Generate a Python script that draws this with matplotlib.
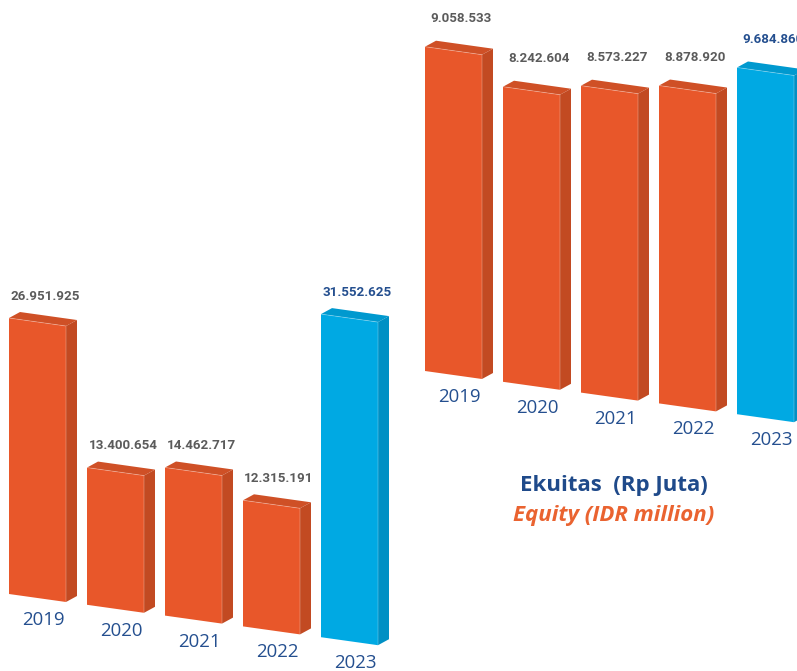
import numpy as np
import matplotlib.pyplot as plt
from matplotlib.patches import Polygon

years = ["2019", "2020", "2021", "2022", "2023"]
# left block (Rp million)
left_vals = [26951925, 13400654, 14462717, 12315191, 31552625]
# equity (Rp million)
equity_vals = [9058533, 8242604, 8573227, 8878920, 9684860]

orange = dict(front="#e8572a", side="#c24a22", top="#cf5026")
blue = dict(front="#00a9e3", side="#0090c4", top="#0099cf")
navy = "#244f8f"
gray = "#5b5b5b"

W, H = 797, 671
fig = plt.figure(figsize=(W / 100, H / 100), dpi=100)
ax = fig.add_axes([0, 0, 1, 1])
ax.set_xlim(0, W)
ax.set_ylim(H, 0)
ax.axis("off")

bw, dx, dy = 57, 11, -6          # front width, depth offset
slope = 8 / 57                   # perspective tilt of top/bottom edges
step_x, step_y = 78, 10.8        # spacing between bars


def fmt(v):
    return f"{v:,}".replace(",", ".")


def bar3d(x, ybase, h, c):
    # front face corners (y grows downward)
    bl = (x, ybase)
    br = (x + bw, ybase + bw * slope)
    tl = (x, ybase - h)
    tr = (x + bw, ybase - h + bw * slope)
    off = lambda p: (p[0] + dx, p[1] + dy)
    ax.add_patch(Polygon([tl, tr, off(tr), off(tl)], closed=True,
                         fc=c["top"], ec="none"))
    ax.add_patch(Polygon([tr, br, off(br), off(tr)], closed=True,
                         fc=c["side"], ec="none"))
    ax.add_patch(Polygon([tl, tr, br, bl], closed=True,
                         fc=c["front"], ec="none"))
    # faint highlight along the front edges
    ax.plot([tl[0], tr[0], br[0]], [tl[1], tr[1], br[1]],
            color="white", lw=0.6, alpha=0.3)
    return tl


def group(vals, x0, y0, scale, lab_off):
    for i, (yr, v) in enumerate(zip(years, vals)):
        x = x0 + i * step_x
        yb = y0 + i * step_y
        c = blue if i == len(vals) - 1 else orange
        tl = bar3d(x, yb, v / 1e6 * scale, c)
        ax.text(x + 36, tl[1] - lab_off, fmt(v), ha="center", va="center",
                fontsize=9.6, fontweight="bold", family="Roboto",
                color=navy if i == len(vals) - 1 else gray)
        ax.text(x + 34, yb + 26, yr, ha="center", va="center",
                fontsize=13.4, family="Open Sans", color=navy)


group(left_vals, 9, 594, 10.24, 22)
group(equity_vals, 425, 371, 35.8, 28)

ax.text(614, 486, "Ekuitas  (Rp Juta)", ha="center", va="center",
        fontsize=16, fontweight="bold", family="Open Sans", color="#1f4a8a")
ax.text(614, 515, "Equity (IDR million)", ha="center", va="center",
        fontsize=16, fontweight="bold", style="italic", family="Open Sans",
        color="#ea6330")

fig.savefig("out.png", dpi=100)
